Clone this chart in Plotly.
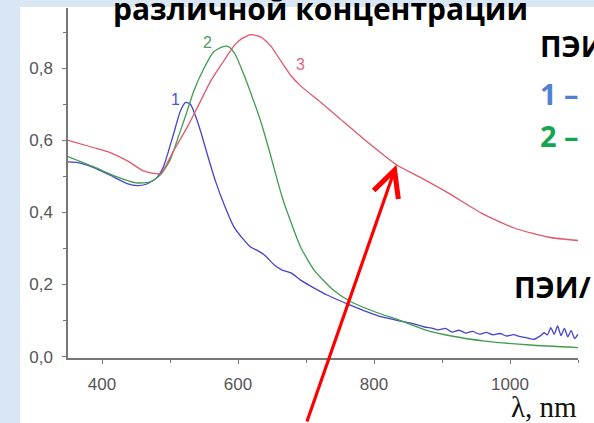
import plotly.graph_objects as go

# ---- data ----
wl_1 = [350, 365, 387, 410, 437, 452, 465, 480, 490, 505, 515, 523, 530, 537, 545, 555, 567,
        580, 594, 608, 619, 629, 640, 653, 665, 678, 692, 712, 732, 766, 806, 840, 860, 874,
        885, 895, 905, 915, 925, 935, 945, 955, 965, 975, 985, 995, 1005, 1015, 1025, 1035,
        1045, 1050, 1055, 1060, 1065, 1070, 1075, 1080, 1085, 1090, 1095, 1100]
abs_1 = [0.540, 0.538, 0.525, 0.505, 0.480, 0.474, 0.478, 0.495, 0.525, 0.616, 0.680, 0.705,
         0.700, 0.670, 0.625, 0.560, 0.486, 0.420, 0.360, 0.325, 0.303, 0.294, 0.280, 0.255,
         0.240, 0.232, 0.212, 0.190, 0.170, 0.142, 0.113, 0.098, 0.090, 0.082, 0.079, 0.074,
         0.078, 0.068, 0.073, 0.065, 0.070, 0.062, 0.067, 0.060, 0.064, 0.057, 0.061, 0.055,
         0.052, 0.048, 0.058, 0.066, 0.060, 0.080, 0.062, 0.085, 0.058, 0.078, 0.055, 0.072,
         0.050, 0.062]

wl_2 = [350, 387, 420, 450, 470, 486, 500, 510, 525, 535, 550, 564, 577, 586, 596, 608, 619,
        633, 645, 656, 665, 673, 692, 712, 741, 766, 800, 840, 874, 914, 963, 1030, 1100]
abs_2 = [0.555, 0.527, 0.500, 0.482, 0.484, 0.504, 0.545, 0.597, 0.680, 0.737, 0.800, 0.845,
         0.859, 0.860, 0.838, 0.785, 0.730, 0.655, 0.578, 0.502, 0.442, 0.398, 0.304, 0.240,
         0.183, 0.152, 0.125, 0.099, 0.075, 0.057, 0.043, 0.032, 0.025]

wl_3 = [350, 387, 412, 440, 461, 486, 505, 525, 540, 560, 579, 594, 604, 619, 633, 648, 663,
        678, 692, 722, 751, 791, 833, 870, 909, 958, 1007, 1057, 1100]
abs_3 = [0.600, 0.580, 0.566, 0.540, 0.515, 0.508, 0.570, 0.635, 0.690, 0.765, 0.820, 0.862,
         0.880, 0.893, 0.887, 0.862, 0.820, 0.779, 0.751, 0.705, 0.658, 0.594, 0.532, 0.495,
         0.454, 0.398, 0.356, 0.331, 0.322]

x_ticks = [400, 600, 800, 1000]
y_ticks = [0.0, 0.2, 0.4, 0.6, 0.8]

curve_names = ["1", "2", "3"]
curve_colors = ["#4444cc", "#3f9c4e", "#e0586a"]
label_colors = ["#4a55d0", "#4fa060", "#e06878"]
label_pos = [(508, 0.714), (555, 0.872), (692, 0.811)]

title_text = "различной концентрации"
side_texts = ["ПЭИ", "1 –", "2 –", "ПЭИ/"]
side_colors = ["#000000", "#4f81d0", "#13a54f", "#000000"]
arrow_target = (833, 0.532)

# ---- geometry helpers (pixel -> paper) ----
W, H = 594, 423
L, R, T, B = 68, 16, 8, 65
pw, ph = W - L - R, H - T - B


def px(x):
    return (x - L) / pw


def py(y):
    return (H - B - y) / ph


fig = go.Figure()
for wl, ab, nm, col in zip([wl_1, wl_2, wl_3], [abs_1, abs_2, abs_3], curve_names, curve_colors):
    fig.add_trace(go.Scatter(x=wl, y=ab, mode="lines", name=nm,
                             line=dict(color=col, width=1.3, shape="spline", smoothing=0.6),
                             showlegend=False))

annotations = []
for nm, col, (lx, ly) in zip(curve_names, label_colors, label_pos):
    annotations.append(dict(x=lx, y=ly, xref="x", yref="y", text=nm, showarrow=False,
                            font=dict(family="Liberation Sans", size=16, color=col)))

annotations.append(dict(x=px(320), y=py(8), xref="paper", yref="paper", text=title_text,
                        showarrow=False, xanchor="center", yanchor="middle",
                        font=dict(family="Open Sans", size=30, color="#000000", weight="bold")))

side_y = [46, 93, 135, 286]
side_x = [538, 538, 538, 512]
for t, c, sx, sy in zip(side_texts, side_colors, side_x, side_y):
    annotations.append(dict(x=px(sx), y=py(sy), xref="paper", yref="paper", text=t,
                            showarrow=False, xanchor="left", yanchor="middle",
                            font=dict(family="Open Sans", size=29, color=c, weight="bold")))

annotations.append(dict(x=px(509), y=py(407), xref="paper", yref="paper", text="λ, nm",
                        showarrow=False, xanchor="left", yanchor="middle",
                        font=dict(family="Liberation Serif", size=29, color="#111111")))

annotations.append(dict(x=arrow_target[0], y=arrow_target[1], xref="x", yref="y", text="",
                        showarrow=True, ax=-90, ay=268, axref="pixel", ayref="pixel",
                        arrowhead=5, arrowsize=1.6, arrowwidth=3.2, arrowcolor="#ff0000",
                        standoff=0))

shapes = [dict(type="rect", xref="paper", yref="paper", x0=px(20), x1=px(600),
               y0=py(430), y1=py(7), fillcolor="#ffffff", line=dict(width=0), layer="below")]

fig.update_layout(
    width=W, height=H,
    margin=dict(l=L, r=R, t=T, b=B),
    paper_bgcolor="#d9e6f3",
    plot_bgcolor="rgba(0,0,0,0)",
    separators=",.",
    annotations=annotations,
    shapes=shapes,
    xaxis=dict(range=[350, 1100], tickvals=x_ticks, ticks="outside", ticklen=4,
               tickcolor="#777777", showline=True, linecolor="#777777", linewidth=1.5,
               showgrid=False, zeroline=False, ticklabelstandoff=6,
               tickfont=dict(family="Liberation Sans", size=17, color="#555555"),
               minor=dict(dtick=100, tick0=300, ticks="outside", ticklen=3, tickcolor="#777777")),
    yaxis=dict(range=[-0.004, 0.967], tickvals=y_ticks, tickformat=".1f", ticks="outside",
               ticklen=4, tickcolor="#777777", showline=True, linecolor="#777777", linewidth=1.5,
               showgrid=False, zeroline=False, ticklabelstandoff=6,
               tickfont=dict(family="Liberation Sans", size=17, color="#555555"),
               minor=dict(dtick=0.1, ticks="outside", ticklen=3, tickcolor="#777777")),
)

fig.write_html("out.html", config={"displayModeBar": False},
               post_script="document.body.style.margin='0';document.body.style.overflow='hidden';")
